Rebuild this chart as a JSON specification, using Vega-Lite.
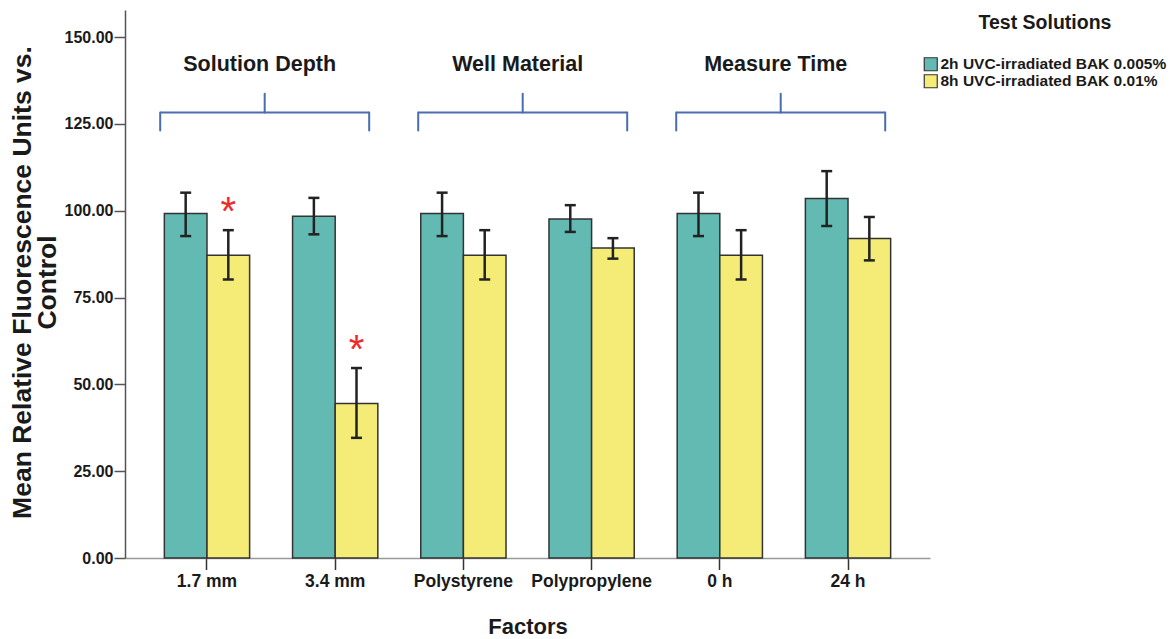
{
  "$schema": "https://vega.github.io/schema/vega-lite/v6.json",
  "width": 805,
  "height": 548,
  "autosize": {"type": "none"},
  "padding": {"left": 125, "top": 10, "right": 241, "bottom": 81},
  "background": "white",
  "config": {"view": {"stroke": null}, "font": "Liberation Sans"},
  "datasets": {
    "results": [
      {"factor": "1.7 mm", "group": "Solution Depth", "solution": "2h UVC-irradiated BAK 0.005%", "mean": 99.2, "lo": 92.7, "hi": 105.2},
      {"factor": "1.7 mm", "group": "Solution Depth", "solution": "8h UVC-irradiated BAK 0.01%", "mean": 87.2, "lo": 80.2, "hi": 94.4, "sig": "*"},
      {"factor": "3.4 mm", "group": "Solution Depth", "solution": "2h UVC-irradiated BAK 0.005%", "mean": 98.4, "lo": 93.2, "hi": 103.7},
      {"factor": "3.4 mm", "group": "Solution Depth", "solution": "8h UVC-irradiated BAK 0.01%", "mean": 44.5, "lo": 34.6, "hi": 54.7, "sig": "*"},
      {"factor": "Polystyrene", "group": "Well Material", "solution": "2h UVC-irradiated BAK 0.005%", "mean": 99.2, "lo": 92.7, "hi": 105.2},
      {"factor": "Polystyrene", "group": "Well Material", "solution": "8h UVC-irradiated BAK 0.01%", "mean": 87.2, "lo": 80.2, "hi": 94.4},
      {"factor": "Polypropylene", "group": "Well Material", "solution": "2h UVC-irradiated BAK 0.005%", "mean": 97.6, "lo": 93.9, "hi": 101.6},
      {"factor": "Polypropylene", "group": "Well Material", "solution": "8h UVC-irradiated BAK 0.01%", "mean": 89.3, "lo": 86.2, "hi": 92.1},
      {"factor": "0 h", "group": "Measure Time", "solution": "2h UVC-irradiated BAK 0.005%", "mean": 99.2, "lo": 92.7, "hi": 105.2},
      {"factor": "0 h", "group": "Measure Time", "solution": "8h UVC-irradiated BAK 0.01%", "mean": 87.2, "lo": 80.2, "hi": 94.4},
      {"factor": "24 h", "group": "Measure Time", "solution": "2h UVC-irradiated BAK 0.005%", "mean": 103.5, "lo": 95.6, "hi": 111.4},
      {"factor": "24 h", "group": "Measure Time", "solution": "8h UVC-irradiated BAK 0.01%", "mean": 92.0, "lo": 85.7, "hi": 98.2}
    ],
    "groups": [
      {"group": "Solution Depth"},
      {"group": "Well Material"},
      {"group": "Measure Time"}
    ]
  },
  "layer": [
    {
      "data": {"name": "results"},
      "encoding": {
        "x": {
          "field": "factor",
          "type": "nominal",
          "sort": ["1.7 mm", "3.4 mm", "Polystyrene", "Polypropylene", "0 h", "24 h"],
          "scale": {"type": "band", "paddingInner": 0.335, "paddingOuter": 0.307},
          "axis": {
            "title": "Factors",
            "titleFont": "Liberation Sans",
            "titleFontSize": 22,
            "titleFontWeight": "bold",
            "titleColor": "#1a1a1a",
            "titleY": 75,
            "titleBaseline": "alphabetic",
            "labelFont": "Liberation Sans",
            "labelFontSize": 17.5,
            "labelFontWeight": "bold",
            "labelColor": "#1a1a1a",
            "labelAngle": 0,
            "labelPadding": 3,
            "tickSize": 11.5,
            "tickColor": "#333333",
            "tickWidth": 1.5,
            "domainColor": "#999999",
            "domainWidth": 1.5
          }
        },
        "xOffset": {
          "field": "solution",
          "type": "nominal",
          "scale": {"paddingInner": 0, "paddingOuter": 0}
        }
      },
      "layer": [
        {
          "mark": {"type": "bar", "stroke": "#333333", "strokeWidth": 1.5},
          "encoding": {
            "y": {
              "field": "mean",
              "type": "quantitative",
              "scale": {"domain": [0, 157.8], "nice": false, "zero": true},
              "axis": {
                "title": ["Mean Relative Fluorescence Units vs.", "Control"],
                "titleFont": "Liberation Sans",
                "titleFontSize": 26.5,
                "titleFontWeight": "bold",
                "titleColor": "#1a1a1a",
                "titleAngle": 270,
                "titleAlign": "center",
                "titleBaseline": "alphabetic",
                "titleLineHeight": 25,
                "titleX": -95,
                "titleY": 272,
                "values": [0, 25, 50, 75, 100, 125, 150],
                "format": ".2f",
                "labelFont": "Liberation Sans",
                "labelFontSize": 16,
                "labelFontWeight": "bold",
                "labelColor": "#1a1a1a",
                "labelPadding": 1,
                "tickSize": 11,
                "tickColor": "#555555",
                "tickWidth": 1.5,
                "domainColor": "#555555",
                "domainWidth": 1.5,
                "grid": false
              }
            },
            "color": {
              "field": "solution",
              "type": "nominal",
              "scale": {"range": ["#62bab3", "#f5ec78"]},
              "legend": {
                "orient": "none",
                "legendX": 798,
                "legendY": 4,
                "padding": 0,
                "title": "Test Solutions",
                "titleFont": "Liberation Sans",
                "titleFontSize": 19.5,
                "titleFontWeight": "bold",
                "titleColor": "#1a1a1a",
                "titleAnchor": "middle",
                "titlePadding": 23,
                "labelFont": "Liberation Sans",
                "labelFontSize": 15.5,
                "labelFontWeight": "bold",
                "labelColor": "#1a1a1a",
                "labelOffset": 2,
                "labelLimit": 400,
                "symbolType": "square",
                "symbolSize": 169,
                "symbolStrokeColor": "#333333",
                "symbolStrokeWidth": 1.2,
                "symbolOpacity": 1,
                "rowPadding": -2
              }
            }
          }
        },
        {
          "mark": {"type": "rule", "color": "#222222", "strokeWidth": 2.5},
          "encoding": {
            "y": {"field": "lo", "type": "quantitative", "scale": {"domain": [0, 157.8], "nice": false}},
            "y2": {"field": "hi"}
          }
        },
        {
          "transform": [{"fold": ["lo", "hi"], "as": ["end", "val"]}],
          "mark": {"type": "tick", "color": "#222222", "size": 11, "thickness": 2.5, "opacity": 1},
          "encoding": {
            "y": {"field": "val", "type": "quantitative", "scale": {"domain": [0, 157.8], "nice": false}}
          }
        },
        {
          "transform": [{"filter": "datum.sig != null"}],
          "mark": {"type": "text", "color": "#ee2a2a", "fontSize": 40, "font": "Liberation Sans", "baseline": "alphabetic", "dy": -5},
          "encoding": {
            "y": {"field": "hi", "type": "quantitative", "scale": {"domain": [0, 157.8], "nice": false}},
            "text": {"field": "sig"}
          }
        }
      ]
    },
    {
      "data": {"name": "groups"},
      "encoding": {
        "x": {
          "field": "group",
          "type": "nominal",
          "sort": ["Solution Depth", "Well Material", "Measure Time"],
          "scale": {"type": "band", "paddingInner": 0.19, "paddingOuter": 0.155, "align": 0.44},
          "axis": null
        }
      },
      "layer": [
        {
          "mark": {"type": "text", "fontSize": 21.5, "fontWeight": "bold", "font": "Liberation Sans", "color": "#1a1a1a", "baseline": "middle", "dx": -5},
          "encoding": {
            "y": {"datum": 142, "type": "quantitative", "scale": {"domain": [0, 157.8], "nice": false}},
            "text": {"field": "group"}
          }
        },
        {
          "mark": {"type": "bar", "fillOpacity": 0, "stroke": "#4a6db0", "strokeWidth": 2},
          "encoding": {
            "y": {"datum": 128.3, "type": "quantitative", "scale": {"domain": [0, 157.8], "nice": false}},
            "y2": {"datum": 128.3}
          }
        },
        {
          "mark": {"type": "rule", "color": "#4a6db0", "strokeWidth": 2, "strokeCap": "round"},
          "encoding": {
            "x": {
              "field": "group",
              "type": "nominal",
              "bandPosition": 0,
              "sort": ["Solution Depth", "Well Material", "Measure Time"],
              "scale": {"type": "band", "paddingInner": 0.19, "paddingOuter": 0.155, "align": 0.44},
              "axis": null
            },
            "y": {"datum": 128.3, "type": "quantitative", "scale": {"domain": [0, 157.8], "nice": false}},
            "y2": {"datum": 123.1}
          }
        },
        {
          "mark": {"type": "rule", "color": "#4a6db0", "strokeWidth": 2, "strokeCap": "round"},
          "encoding": {
            "x": {
              "field": "group",
              "type": "nominal",
              "bandPosition": 1,
              "sort": ["Solution Depth", "Well Material", "Measure Time"],
              "scale": {"type": "band", "paddingInner": 0.19, "paddingOuter": 0.155, "align": 0.44},
              "axis": null
            },
            "y": {"datum": 128.3, "type": "quantitative", "scale": {"domain": [0, 157.8], "nice": false}},
            "y2": {"datum": 123.1}
          }
        },
        {
          "mark": {"type": "rule", "color": "#4a6db0", "strokeWidth": 2, "strokeCap": "round"},
          "encoding": {
            "x": {
              "field": "group",
              "type": "nominal",
              "bandPosition": 0.5,
              "sort": ["Solution Depth", "Well Material", "Measure Time"],
              "scale": {"type": "band", "paddingInner": 0.19, "paddingOuter": 0.155, "align": 0.44},
              "axis": null
            },
            "y": {"datum": 128.3, "type": "quantitative", "scale": {"domain": [0, 157.8], "nice": false}},
            "y2": {"datum": 133.7}
          }
        }
      ]
    }
  ],
  "resolve": {"scale": {"x": "independent"}, "axis": {"x": "independent"}}
}
